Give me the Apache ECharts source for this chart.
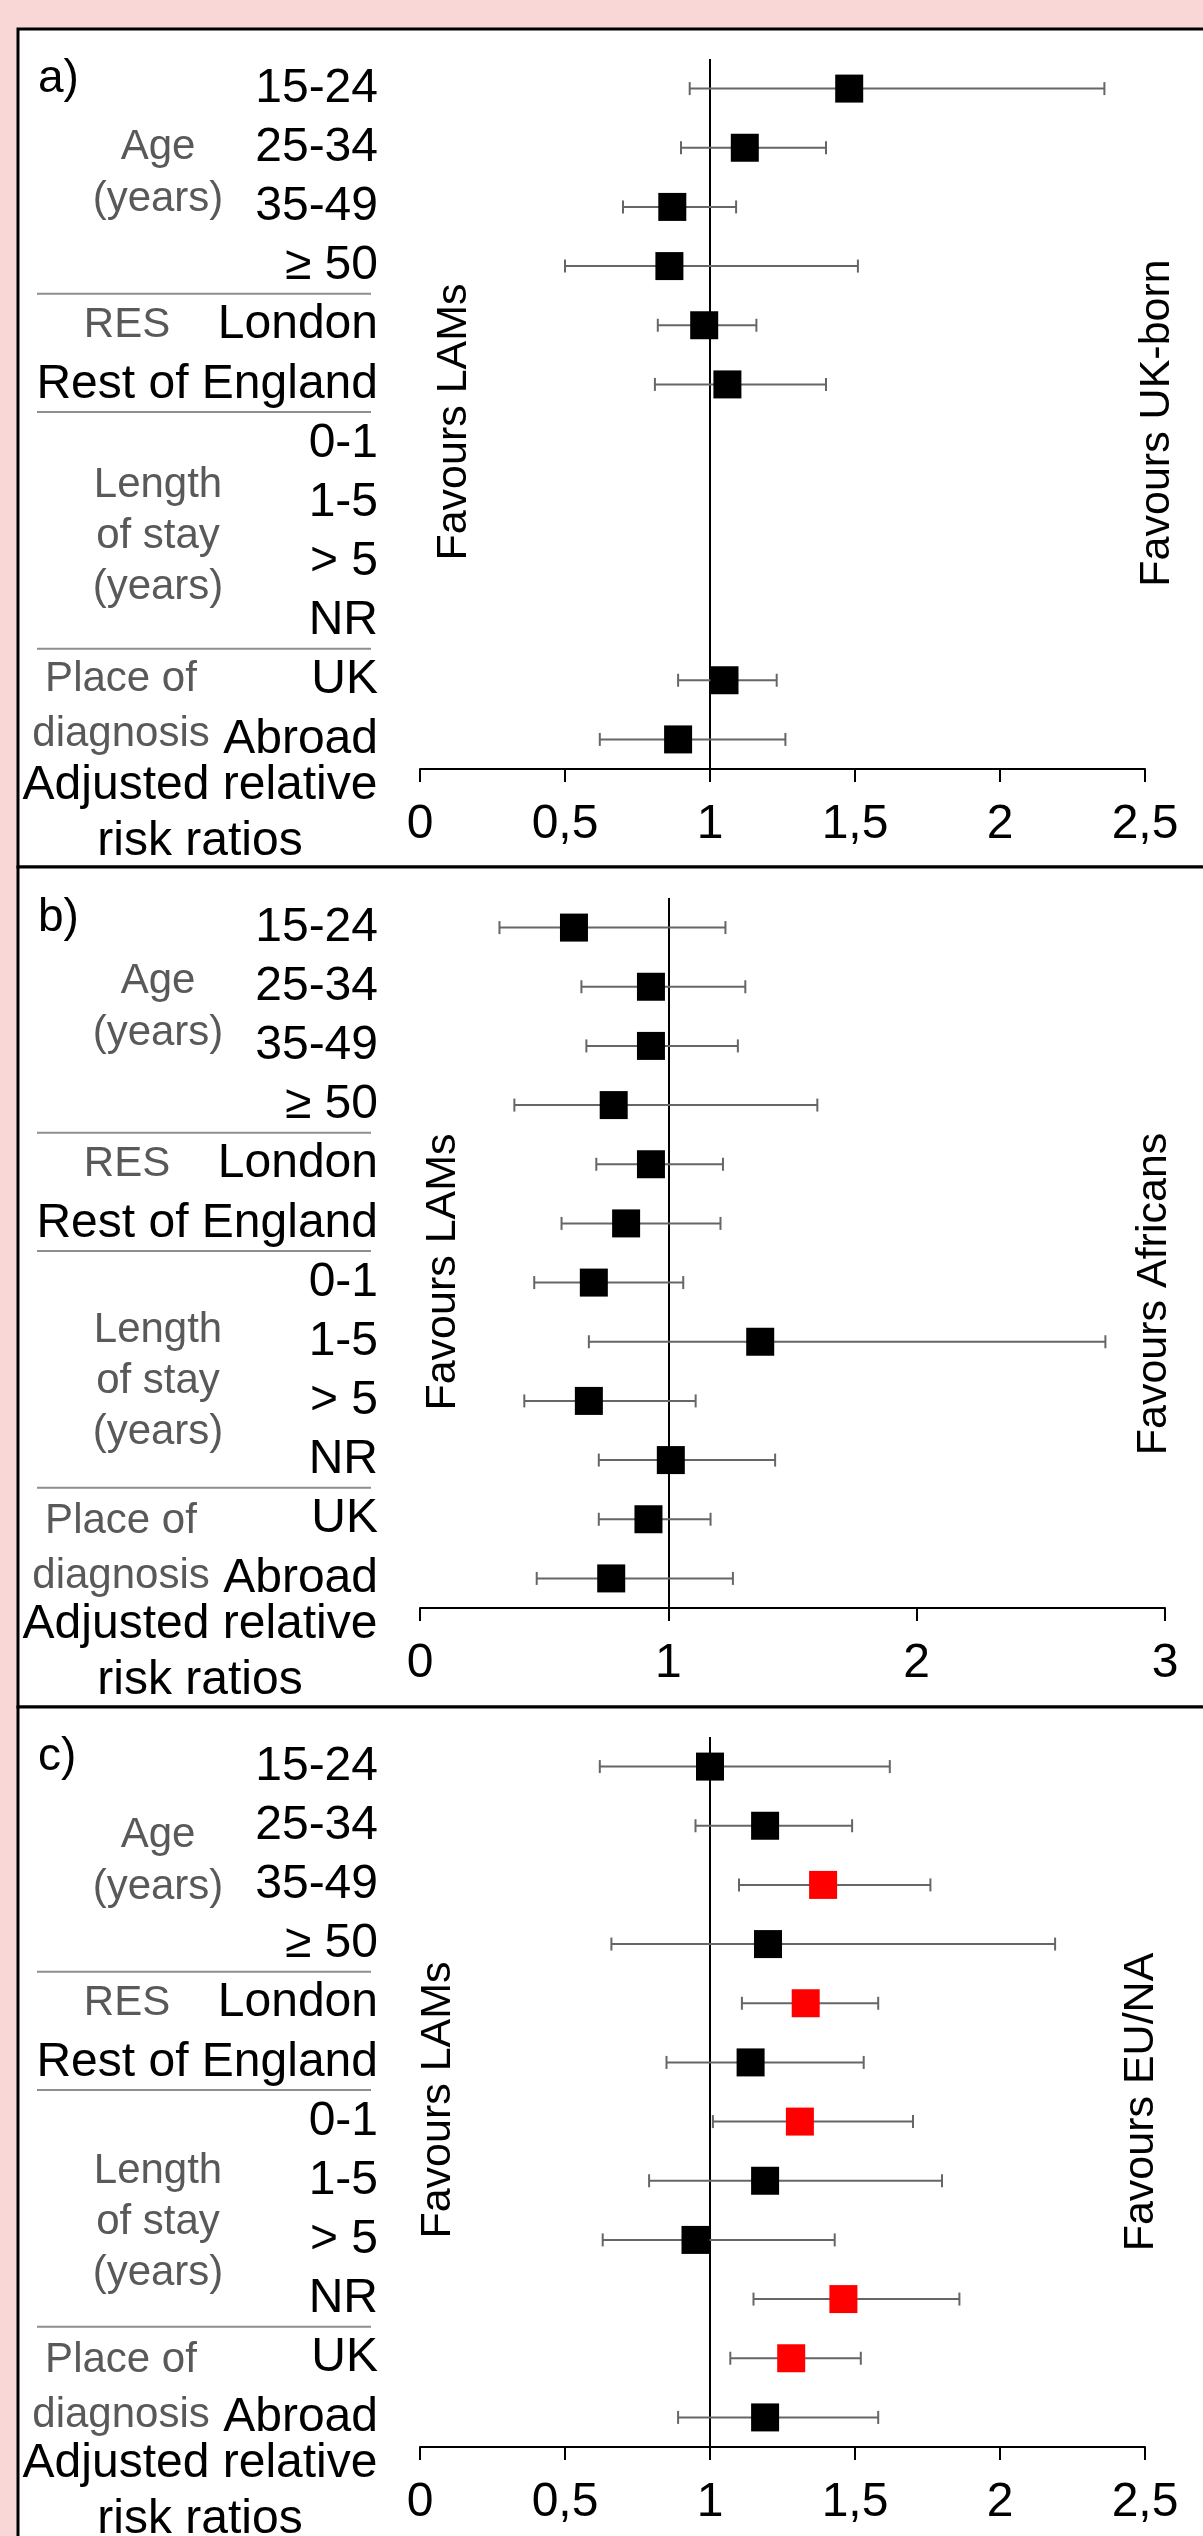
<!DOCTYPE html>
<html>
<head>
<meta charset="utf-8">
<script src="https://cdn.jsdelivr.net/npm/echarts@6/dist/echarts.min.js"></script>
<style>
  html, body { margin: 0; padding: 0; background: #fad7d7; }
  #chart { width: 1203px; height: 2536px; }
</style>
</head>
<body>
<div id="chart"></div>
<script>
// rows shared by the three panels (top to bottom)
const rowLabels = ['15-24', '25-34', '35-49', '\u2265 50', 'London', 'Rest of England',
  '0-1', '1-5', '> 5', 'NR', 'UK', 'Abroad'];

const panelNames = ['a)', 'b)', 'c)'];
const comparisonLabels = ['Favours UK-born', 'Favours Africans', 'Favours EU/NA'];
const xMax = [2.5, 3, 2.5];
const xStep = [0.5, 1, 0.5];

// a) LAMs vs UK-born
const aRR = [1.48, 1.12, 0.87, 0.86, 0.98, 1.06, null, null, null, null, 1.05, 0.89];
const aLo = [0.93, 0.90, 0.70, 0.50, 0.82, 0.81, null, null, null, null, 0.89, 0.62];
const aHi = [2.36, 1.40, 1.09, 1.51, 1.16, 1.40, null, null, null, null, 1.23, 1.26];

// b) LAMs vs Africans
const bRR = [0.62, 0.93, 0.93, 0.78, 0.93, 0.83, 0.70, 1.37, 0.68, 1.01, 0.92, 0.77];
const bLo = [0.32, 0.65, 0.67, 0.38, 0.71, 0.57, 0.46, 0.68, 0.42, 0.72, 0.72, 0.47];
const bHi = [1.23, 1.31, 1.28, 1.60, 1.22, 1.21, 1.06, 2.76, 1.11, 1.43, 1.17, 1.26];

// c) LAMs vs EU/NA (1 = significant, drawn red)
const cRR = [1.00, 1.19, 1.39, 1.20, 1.33, 1.14, 1.31, 1.19, 0.95, 1.46, 1.28, 1.19];
const cLo = [0.62, 0.95, 1.10, 0.66, 1.11, 0.85, 1.01, 0.79, 0.63, 1.15, 1.07, 0.89];
const cHi = [1.62, 1.49, 1.76, 2.19, 1.58, 1.53, 1.70, 1.80, 1.43, 1.86, 1.52, 1.58];
const cSig = [0, 0, 1, 0, 1, 0, 1, 0, 0, 1, 1, 0];

const panelData = [
  { rr: aRR, lo: aLo, hi: aHi, sig: null },
  { rr: bRR, lo: bLo, hi: bHi, sig: null },
  { rr: cRR, lo: cLo, hi: cHi, sig: cSig },
];

// page layout, pixels
const layout = [
  { top: 59, width: 725, box: [29, 867], left: [454, 422], right: [1157, 423], dAge: -4, dStay: 4, dPlace: -3 },
  { top: 898, width: 745, box: [867, 1707], left: [443, 1272], right: [1154, 1294], dAge: -9, dStay: 10, dPlace: 0 },
  { top: 1737, width: 725, box: [1707, 2700], left: [438, 2100], right: [1141, 2102], dAge: 6, dStay: 12, dPlace: 0 },
];

const FONT = '"Liberation Sans", Arial, sans-serif';
const GREY_TEXT = '#595959';

function intervals(lo, hi) {
  const out = [];
  lo.forEach((v, i) => {
    if (v != null) out.push([v, hi[i], i]);
  });
  return out;
}

function points(rr, sig) {
  const out = [];
  rr.forEach((v, i) => {
    if (v == null) return;
    out.push({
      value: [v, i],
      itemStyle: { color: sig && sig[i] ? '#ff0000' : '#000000', opacity: 1 },
    });
  });
  return out;
}

function renderBar(params, api) {
  const row = api.value(2);
  const p0 = api.coord([api.value(0), row]);
  const p1 = api.coord([api.value(1), row]);
  const cap = 6.5;
  const style = { stroke: '#666666', lineWidth: 2 };
  return {
    type: 'group',
    children: [
      { type: 'line', shape: { x1: p0[0], y1: p0[1], x2: p1[0], y2: p1[1] }, style },
      { type: 'line', shape: { x1: p0[0], y1: p0[1] - cap, x2: p0[0], y2: p0[1] + cap }, style },
      { type: 'line', shape: { x1: p1[0], y1: p1[1] - cap, x2: p1[0], y2: p1[1] + cap }, style },
    ],
  };
}

const grids = [], xAxes = [], yAxes = [], series = [];
layout.forEach((l, p) => {
  grids.push({ left: 420, top: l.top, width: l.width, height: 710, outerBoundsMode: 'none' });
  xAxes.push({
    type: 'value', gridIndex: p, min: 0, max: xMax[p], interval: xStep[p],
    axisLine: { show: true, onZero: false, lineStyle: { color: '#000', width: 2 } },
    axisTick: { show: true, length: 13, lineStyle: { color: '#000', width: 2 } },
    axisLabel: {
      margin: 32, fontSize: 48, color: '#000', fontFamily: FONT,
      showMinLabel: true, showMaxLabel: true,
      formatter: (v) => String(v).replace('.', ','),
    },
    splitLine: { show: false },
  });
  yAxes.push({
    type: 'category', gridIndex: p, data: rowLabels, inverse: true,
    axisLine: { show: false }, axisTick: { show: false }, splitLine: { show: false },
    axisLabel: { interval: 0, margin: 42, fontSize: 48, color: '#000', fontFamily: FONT },
  });
  const d = panelData[p];
  // line of no effect at RR = 1
  series.push({
    type: 'scatter', xAxisIndex: p, yAxisIndex: p, z: 1, data: [],
    markLine: {
      silent: true, z: 1, symbol: ['none', 'none'], label: { show: false },
      lineStyle: { color: '#000', width: 2, type: 'solid', opacity: 1 },
      emphasis: { disabled: true },
      data: [{ xAxis: 1 }],
    },
  });
  series.push({
    type: 'custom', xAxisIndex: p, yAxisIndex: p, z: 2,
    renderItem: renderBar,
    dimensions: ['lo', 'hi', 'row'],
    encode: { x: ['lo', 'hi'], y: 'row' },
    data: intervals(d.lo, d.hi),
  });
  series.push({
    type: 'scatter', xAxisIndex: p, yAxisIndex: p, z: 3,
    symbol: 'rect', symbolSize: [28, 28],
    itemStyle: { opacity: 1 },
    emphasis: { disabled: true },
    data: points(d.rr, d.sig),
  });
});

const chart = echarts.init(document.getElementById('chart'), null, { renderer: 'canvas' });
chart.setOption({
  backgroundColor: '#fad7d7',
  animation: false,
  grid: grids,
  xAxis: xAxes,
  yAxis: yAxes,
  series: series,
});

function text(x, y, str, opt) {
  return Object.assign({
    type: 'text', x: x, y: y, z: 10,
    style: Object.assign({
      text: str, fontSize: 42, fontFamily: FONT, fill: GREY_TEXT,
      align: 'center', verticalAlign: 'middle',
      textAlign: 'center', textVerticalAlign: 'middle',
    }, opt && opt.style),
  }, opt && opt.el);
}

const graphics = [];
layout.forEach((l, p) => {
  const rowY = (i) => chart.convertToPixel({ yAxisIndex: p }, i);
  const between = (i) => (rowY(i) + rowY(i + 1)) / 2;
  const band = rowY(1) - rowY(0);
  const axisY = rowY(11) + band / 2;

  graphics.push({
    type: 'rect', z: -10,
    shape: { x: 18, y: l.box[0], width: 1300, height: l.box[1] - l.box[0] },
    style: { fill: '#ffffff', stroke: '#000000', lineWidth: 3 },
  });

  graphics.push(text(38, rowY(0) - 9, panelNames[p],
    { style: { fontSize: 46, fill: '#000', align: 'left', textAlign: 'left' } }));

  graphics.push(text(158, (rowY(1) + rowY(2)) / 2 + l.dAge, 'Age\n(years)', { style: { lineHeight: 52 } }));
  graphics.push(text(127, rowY(4), 'RES'));
  graphics.push(text(158, (rowY(7) + rowY(8)) / 2 + l.dStay, 'Length\nof stay\n(years)', { style: { lineHeight: 51 } }));
  graphics.push(text(121, (rowY(10) + rowY(11)) / 2 + l.dPlace, 'Place of\ndiagnosis', { style: { lineHeight: 55 } }));

  [3, 5, 9].forEach((i) => {
    const y = between(i) - 2;
    graphics.push({
      type: 'line', z: 10,
      shape: { x1: 37, y1: y, x2: 371, y2: y },
      style: { stroke: '#8e8e8e', lineWidth: 2 },
    });
  });

  graphics.push(text(200, axisY + 44.5, 'Adjusted relative\nrisk ratios',
    { style: { fontSize: 48, fill: '#000', lineHeight: 56 } }));

  graphics.push(text(l.left[0], l.left[1], 'Favours LAMs',
    { style: { fontSize: 43, fill: '#000' }, el: { rotation: Math.PI / 2 } }));
  graphics.push(text(l.right[0], l.right[1], comparisonLabels[p],
    { style: { fontSize: 43, fill: '#000' }, el: { rotation: Math.PI / 2 } }));
});

chart.setOption({ graphic: { elements: graphics } });
</script>
</body>
</html>
